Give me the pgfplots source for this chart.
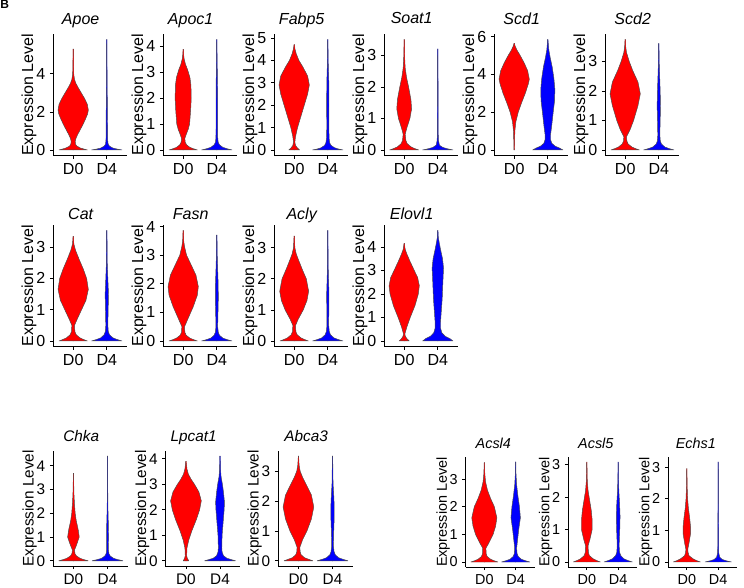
\documentclass[border=0pt]{standalone}
\usepackage{fontspec}
\setmainfont{Liberation Sans}
\usepackage{pgfplots}
\usepackage{pgfplotstable}
\pgfplotsset{compat=1.18}

\definecolor{vred}{RGB}{255,0,0}
\definecolor{vblue}{RGB}{0,0,255}
\newcommand\fA{\fontsize{12}{14}\selectfont}
\newcommand\fB{\fontsize{11.5}{13}\selectfont}
\newcommand\fC{\fontsize{10.8}{12}\selectfont}

% ---------- violin half-width profiles (y, half width in category units) ----------
% first and last rows (w = -0.01) anchor each half just past the centre line
\pgfplotstableread{
y w
0 -0.01
0 0.42
0.05 0.32
0.1 0.22
0.2 0.11
0.3 0.07
0.45 0.06
0.6 0.08
0.8 0.13
1.0 0.19
1.3 0.28
1.6 0.36
1.9 0.43
2.1 0.45
2.4 0.42
2.7 0.34
3.0 0.24
3.3 0.14
3.5 0.08
3.7 0.04
4.0 0.015
4.5 0.007
5.3 0.003
5.3 -0.01
}\ApoeA
\pgfplotstableread{
y w
0 -0.01
0 0.45
0.05 0.3
0.1 0.18
0.2 0.08
0.3 0.04
0.5 0.025
1.0 0.022
1.5 0.02
2.0 0.018
2.5 0.015
3.0 0.012
3.5 0.008
4.5 0.005
5.8 0.002
5.8 -0.01
}\ApoeB
\pgfplotstableread{
y w
0 -0.01
0 0.42
0.05 0.3
0.1 0.2
0.2 0.1
0.3 0.06
0.45 0.05
0.6 0.09
0.8 0.15
1.0 0.19
1.5 0.22
2.0 0.24
2.5 0.23
2.8 0.2
3.1 0.13
3.3 0.07
3.5 0.03
3.7 0.01
3.88 0.002
3.88 -0.01
}\ApocA
\pgfplotstableread{
y w
0 -0.01
0 0.45
0.05 0.3
0.1 0.18
0.2 0.08
0.3 0.04
0.5 0.025
1.0 0.024
2.0 0.024
2.5 0.02
3.0 0.015
3.4 0.009
3.8 0.005
4.26 0.002
4.26 -0.01
}\ApocB
\pgfplotstableread{
y w
0 -0.01
0 0.16
0.1 0.09
0.2 0.04
0.35 0.02
0.6 0.04
1.0 0.1
1.5 0.2
2.0 0.3
2.5 0.4
2.9 0.45
3.3 0.4
3.7 0.26
4.0 0.14
4.3 0.06
4.5 0.025
4.7 0.003
4.7 -0.01
}\FabpA
\pgfplotstableread{
y w
0 -0.01
0 0.45
0.05 0.3
0.1 0.2
0.2 0.1
0.3 0.06
0.5 0.04
1.0 0.03
2.0 0.035
3.0 0.03
3.5 0.02
4.0 0.01
4.93 0.002
4.93 -0.01
}\FabpB
\pgfplotstableread{
y w
0 -0.01
0 0.43
0.05 0.3
0.1 0.2
0.2 0.09
0.3 0.05
0.5 0.03
0.7 0.08
1.0 0.17
1.3 0.22
1.6 0.2
2.0 0.13
2.3 0.07
2.6 0.03
3.0 0.01
3.5 0.002
3.5 -0.01
}\SoatA
\pgfplotstableread{
y w
0 -0.01
0 0.45
0.04 0.28
0.08 0.15
0.15 0.05
0.3 0.02
0.5 0.012
1.0 0.01
1.8 0.008
2.5 0.004
3.2 0.002
3.2 -0.01
}\SoatB
\pgfplotstableread{
y w
0 -0.005
0 0.008
0.5 0.012
1.0 0.02
1.5 0.05
2.0 0.12
2.5 0.22
3.0 0.33
3.5 0.42
3.75 0.45
4.2 0.4
4.6 0.3
5.0 0.18
5.3 0.08
5.5 0.03
5.65 0.003
5.65 -0.01
}\ScdoA
\pgfplotstableread{
y w
0 -0.01
0 0.45
0.1 0.35
0.2 0.22
0.35 0.12
0.55 0.08
0.8 0.08
1.2 0.11
2.0 0.16
2.6 0.2
3.2 0.21
3.8 0.18
4.4 0.13
4.9 0.07
5.3 0.03
5.85 0.003
5.85 -0.01
}\ScdoB
\pgfplotstableread{
y w
0 -0.01
0 0.42
0.05 0.3
0.1 0.2
0.2 0.09
0.3 0.05
0.45 0.04
0.7 0.15
1.0 0.25
1.5 0.38
1.9 0.45
2.3 0.38
2.7 0.22
3.0 0.12
3.3 0.04
3.5 0.015
3.74 0.003
3.74 -0.01
}\ScdtA
\pgfplotstableread{
y w
0 -0.01
0 0.45
0.05 0.3
0.1 0.18
0.2 0.08
0.3 0.045
0.5 0.03
1.0 0.04
1.5 0.05
2.0 0.04
2.5 0.025
3.0 0.01
3.6 0.003
3.6 -0.01
}\ScdtB
\pgfplotstableread{
y w
0 -0.01
0 0.42
0.05 0.3
0.1 0.2
0.2 0.09
0.3 0.05
0.5 0.04
0.7 0.12
1.0 0.25
1.3 0.38
1.65 0.45
2.0 0.4
2.3 0.3
2.6 0.18
2.9 0.07
3.1 0.02
3.34 0.003
3.34 -0.01
}\CatA
\pgfplotstableread{
y w
0 -0.01
0 0.45
0.05 0.3
0.1 0.18
0.2 0.08
0.3 0.045
0.5 0.03
1.0 0.04
1.5 0.05
2.0 0.03
2.5 0.012
3.53 0.003
3.53 -0.01
}\CatB
\pgfplotstableread{
y w
0 -0.01
0 0.42
0.05 0.3
0.1 0.2
0.2 0.09
0.3 0.05
0.5 0.04
0.8 0.15
1.2 0.3
1.6 0.42
1.9 0.45
2.3 0.38
2.7 0.22
3.0 0.1
3.3 0.04
3.5 0.015
3.86 0.003
3.86 -0.01
}\FasnA
\pgfplotstableread{
y w
0 -0.01
0 0.45
0.05 0.3
0.1 0.18
0.2 0.08
0.3 0.045
0.5 0.025
1.0 0.035
1.5 0.045
2.0 0.04
2.5 0.025
3.0 0.012
3.7 0.003
3.7 -0.01
}\FasnB
\pgfplotstableread{
y w
0 -0.01
0 0.42
0.05 0.3
0.1 0.2
0.2 0.09
0.3 0.05
0.5 0.04
0.7 0.12
1.0 0.27
1.3 0.38
1.6 0.43
2.0 0.36
2.3 0.24
2.6 0.13
2.8 0.06
3.0 0.02
3.37 0.003
3.37 -0.01
}\AclyA
\pgfplotstableread{
y w
0 -0.01
0 0.45
0.05 0.3
0.1 0.18
0.2 0.08
0.3 0.045
0.5 0.025
1.0 0.03
1.5 0.035
2.0 0.02
2.5 0.008
3.55 0.003
3.55 -0.01
}\AclyB
\pgfplotstableread{
y w
0 -0.01
0 0.15
0.1 0.08
0.2 0.035
0.3 0.02
0.6 0.08
1.0 0.18
1.5 0.32
2.0 0.42
2.35 0.45
2.7 0.4
3.0 0.3
3.4 0.17
3.7 0.08
3.9 0.03
4.15 0.003
4.15 -0.01
}\ElovA
\pgfplotstableread{
y w
0 -0.01
0 0.45
0.1 0.36
0.2 0.22
0.35 0.12
0.55 0.08
0.8 0.08
1.2 0.1
1.8 0.13
2.5 0.15
3.1 0.17
3.5 0.14
3.9 0.08
4.2 0.04
4.4 0.015
4.7 0.003
4.7 -0.01
}\ElovB
\pgfplotstableread{
y w
0 -0.01
0 0.43
0.05 0.3
0.1 0.2
0.2 0.09
0.3 0.045
0.45 0.03
0.7 0.1
1.0 0.17
1.3 0.14
1.7 0.08
2.0 0.05
2.4 0.03
2.8 0.015
3.2 0.008
3.68 0.002
3.68 -0.01
}\ChkaA
\pgfplotstableread{
y w
0 -0.01
0 0.45
0.05 0.3
0.1 0.18
0.2 0.08
0.3 0.04
0.5 0.025
1.0 0.03
1.5 0.025
2.0 0.015
2.5 0.008
3.5 0.004
4.4 0.002
4.4 -0.01
}\ChkaB
\pgfplotstableread{
y w
0 -0.01
0 0.08
0.1 0.04
0.2 0.02
0.5 0.03
0.8 0.08
1.2 0.18
1.6 0.3
2.0 0.4
2.35 0.45
2.7 0.38
3.0 0.25
3.2 0.15
3.4 0.07
3.6 0.03
3.9 0.003
3.9 -0.01
}\LpcA
\pgfplotstableread{
y w
0 -0.01
0 0.45
0.05 0.32
0.1 0.2
0.2 0.1
0.35 0.06
0.5 0.05
1.0 0.06
1.5 0.09
2.0 0.12
2.3 0.13
2.7 0.1
3.0 0.07
3.3 0.03
3.6 0.012
4.1 0.003
4.1 -0.01
}\LpcB
\pgfplotstableread{
y w
0 -0.01
0 0.42
0.05 0.3
0.1 0.18
0.2 0.08
0.3 0.05
0.45 0.04
0.7 0.12
1.0 0.25
1.4 0.38
1.8 0.45
2.2 0.38
2.5 0.25
2.8 0.12
3.0 0.05
3.2 0.02
3.5 0.003
3.5 -0.01
}\AbcaA
\pgfplotstableread{
y w
0 -0.01
0 0.45
0.05 0.3
0.1 0.18
0.2 0.08
0.3 0.045
0.5 0.025
1.0 0.035
1.5 0.05
1.8 0.05
2.2 0.035
2.6 0.015
3.5 0.003
3.5 -0.01
}\AbcaB
\pgfplotstableread{
y w
0 -0.01
0 0.43
0.05 0.3
0.1 0.2
0.2 0.09
0.3 0.06
0.5 0.05
0.7 0.15
1.0 0.28
1.3 0.36
1.6 0.4
2.0 0.32
2.3 0.2
2.6 0.1
2.9 0.04
3.2 0.015
3.6 0.003
3.6 -0.01
}\AcsfA
\pgfplotstableread{
y w
0 -0.01
0 0.45
0.05 0.3
0.1 0.18
0.2 0.08
0.3 0.045
0.5 0.03
0.8 0.06
1.2 0.1
1.6 0.15
2.0 0.12
2.4 0.07
2.8 0.03
3.2 0.01
3.62 0.003
3.62 -0.01
}\AcsfB
\pgfplotstableread{
y w
0 -0.01
0 0.43
0.05 0.3
0.1 0.2
0.2 0.08
0.3 0.05
0.5 0.04
0.7 0.1
1.0 0.17
1.3 0.17
1.6 0.14
1.9 0.09
2.2 0.04
2.5 0.015
3.08 0.002
3.08 -0.01
}\AcsvA
\pgfplotstableread{
y w
0 -0.01
0 0.45
0.05 0.3
0.1 0.18
0.2 0.08
0.3 0.045
0.5 0.03
1.0 0.05
1.4 0.06
1.8 0.045
2.2 0.02
2.6 0.008
3.08 0.002
3.08 -0.01
}\AcsvB
\pgfplotstableread{
y w
0 -0.01
0 0.43
0.05 0.3
0.1 0.2
0.2 0.07
0.3 0.04
0.4 0.03
0.6 0.07
0.9 0.12
1.1 0.12
1.4 0.09
1.7 0.05
2.0 0.025
2.4 0.01
2.95 0.002
2.95 -0.01
}\EchsA
\pgfplotstableread{
y w
0 -0.01
0 0.42
0.04 0.25
0.08 0.13
0.15 0.05
0.3 0.015
0.8 0.012
1.2 0.01
1.6 0.006
3.16 0.002
3.16 -0.01
}\EchsB

% one violin = right half + mirrored left half from the same profile
\newcommand{\violin}[3]{%
  \addplot[fill=#3, draw=black!70, line width=0.35pt, line join=round] table[x expr={#2+\thisrow{w}}, y=y] {#1};
  \addplot[fill=#3, draw=black!70, line width=0.35pt, line join=round] table[x expr={#2-\thisrow{w}}, y=y] {#1};
}

\pgfplotsset{
  vp/.style={
    anchor=south west, scale only axis,
    font=#1,
    axis lines*=left, axis line style={-, black, line width=0.5pt},
    xmin=0.4, xmax=2.6, xtick={1,2}, xticklabels={D0,D4},
    xtick pos=left, ytick pos=left, tick align=outside,
    major tick length=2.3pt, tick style={black, line width=0.5pt},
    minor tick num=0,
    ylabel={Expression Level},
    tick label style={font=#1}, label style={font=#1},
    xticklabel style={font=#1}, yticklabel style={font=#1},
    ylabel style={font=#1},
    every axis title/.style={at={(0.5,1)}, anchor=base, xshift=-7pt, font=#1\itshape},
    ylabel shift=-7pt,
    /pgf/number format/assume math mode=true,
  }
}

\begin{document}
\begin{tikzpicture}
\useasboundingbox (0,0) rectangle (558pt,-441pt);
\node[anchor=north west, inner sep=0pt, font=\bfseries\fontsize{9}{9}\selectfont] at (0pt,0pt) {B};

% ---------------- Row 1 ----------------
\begin{axis}[vp=\fA, at={(39.75pt,-116.625pt)}, width=55.5pt, height=91.125pt,
  ymin=-0.29, ymax=6.09, ytick={0,2,4}, title={Apoe}, title style={yshift=7.5pt}]
\violin{\ApoeA}{1}{vred}
\violin{\ApoeB}{2}{vblue}
\end{axis}
\begin{axis}[vp=\fA, at={(122.25pt,-116.625pt)}, width=55.5pt, height=91.125pt,
  ymin=-0.213, ymax=4.473, ytick={0,1,2,3,4}, title={Apoc1}, title style={yshift=7.5pt}]
\violin{\ApocA}{1}{vred}
\violin{\ApocB}{2}{vblue}
\end{axis}
\begin{axis}[vp=\fA, at={(205.5pt,-116.625pt)}, width=55.5pt, height=91.125pt,
  ymin=-0.2465, ymax=5.1765, ytick={0,1,2,3,4,5}, title={Fabp5}, title style={yshift=7.5pt}]
\violin{\FabpA}{1}{vred}
\violin{\FabpB}{2}{vblue}
\end{axis}
\begin{axis}[vp=\fA, at={(288pt,-116.625pt)}, width=55.5pt, height=91.125pt,
  ymin=-0.175, ymax=3.675, ytick={0,1,2,3}, title={Soat1}, title style={yshift=7.5pt}]
\violin{\SoatA}{1}{vred}
\violin{\SoatB}{2}{vblue}
\end{axis}
\begin{axis}[vp=\fA, at={(370.5pt,-116.625pt)}, width=55.5pt, height=91.125pt,
  ymin=-0.2925, ymax=6.1425, ytick={0,2,4,6}, title={Scd1}, title style={yshift=7.5pt}]
\violin{\ScdoA}{1}{vred}
\violin{\ScdoB}{2}{vblue}
\end{axis}
\begin{axis}[vp=\fA, at={(453.75pt,-116.625pt)}, width=55.5pt, height=91.125pt,
  ymin=-0.187, ymax=3.927, ytick={0,1,2,3}, title={Scd2}, title style={yshift=7.5pt}]
\violin{\ScdtA}{1}{vred}
\violin{\ScdtB}{2}{vblue}
\end{axis}

% ---------------- Row 2 ----------------
\begin{axis}[vp=\fA, at={(39.75pt,-259.875pt)}, width=55.5pt, height=91.125pt,
  ymin=-0.1765, ymax=3.7065, ytick={0,1,2,3}, title={Cat}, title style={yshift=4pt}]
\violin{\CatA}{1}{vred}
\violin{\CatB}{2}{vblue}
\end{axis}
\begin{axis}[vp=\fA, at={(122.25pt,-259.875pt)}, width=55.5pt, height=91.125pt,
  ymin=-0.193, ymax=4.053, ytick={0,1,2,3,4}, title={Fasn}, title style={yshift=4pt}]
\violin{\FasnA}{1}{vred}
\violin{\FasnB}{2}{vblue}
\end{axis}
\begin{axis}[vp=\fA, at={(205.5pt,-259.875pt)}, width=55.5pt, height=91.125pt,
  ymin=-0.1775, ymax=3.7275, ytick={0,1,2,3}, title={Acly}, title style={yshift=4pt}]
\violin{\AclyA}{1}{vred}
\violin{\AclyB}{2}{vblue}
\end{axis}
\begin{axis}[vp=\fA, at={(288pt,-259.875pt)}, width=55.5pt, height=91.125pt,
  ymin=-0.235, ymax=4.935, ytick={0,1,2,3,4}, title={Elovl1}, title style={yshift=4pt}]
\violin{\ElovA}{1}{vred}
\violin{\ElovB}{2}{vblue}
\end{axis}

% ---------------- Row 3 left ----------------
\begin{axis}[vp=\fB, at={(39.75pt,-424.5pt)}, width=56.25pt, height=86.25pt,
  ymin=-0.22, ymax=4.62, ytick={0,1,2,3,4}, title={Chka}, title style={yshift=7pt}]
\violin{\ChkaA}{1}{vred}
\violin{\ChkaB}{2}{vblue}
\end{axis}
\begin{axis}[vp=\fB, at={(124.125pt,-424.5pt)}, width=56.25pt, height=86.25pt,
  ymin=-0.205, ymax=4.305, ytick={0,1,2,3,4}, title={Lpcat1}, title style={yshift=7pt}]
\violin{\LpcA}{1}{vred}
\violin{\LpcB}{2}{vblue}
\end{axis}
\begin{axis}[vp=\fB, at={(208.5pt,-424.5pt)}, width=56.25pt, height=86.25pt,
  ymin=-0.175, ymax=3.675, ytick={0,1,2,3}, title={Abca3}, title style={yshift=7pt}]
\violin{\AbcaA}{1}{vred}
\violin{\AbcaB}{2}{vblue}
\end{axis}

% ---------------- Row 3 right ----------------
\begin{axis}[vp=\fC, at={(349.125pt,-425.25pt)}, width=51.75pt, height=82.5pt,
  ymin=-0.181, ymax=3.801, ytick={0,1,2,3}, title={Acsl4}, title style={yshift=6.5pt, xshift=2pt}]
\violin{\AcsfA}{1}{vred}
\violin{\AcsfB}{2}{vblue}
\end{axis}
\begin{axis}[vp=\fC, at={(426pt,-425.25pt)}, width=51.75pt, height=82.5pt,
  ymin=-0.154, ymax=3.234, ytick={0,1,2,3}, title={Acsl5}, title style={yshift=6.5pt, xshift=2pt}]
\violin{\AcsvA}{1}{vred}
\violin{\AcsvB}{2}{vblue}
\end{axis}
\begin{axis}[vp=\fC, at={(501pt,-425.25pt)}, width=51.75pt, height=82.5pt,
  ymin=-0.158, ymax=3.318, ytick={0,1,2,3}, title={Echs1}, title style={yshift=6.5pt, xshift=2pt}]
\violin{\EchsA}{1}{vred}
\violin{\EchsB}{2}{vblue}
\end{axis}
\end{tikzpicture}
\end{document}
